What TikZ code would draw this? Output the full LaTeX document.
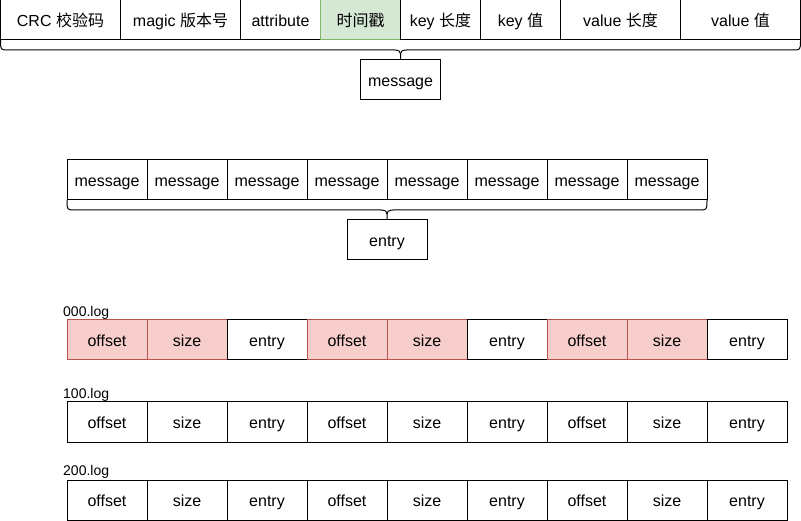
\documentclass[tikz,border=0pt]{standalone}
\usepackage{fontspec}
\setmainfont{Liberation Sans}
\newfontfamily\cjk{Noto Sans CJK SC}
\usetikzlibrary{calc}
\definecolor{gfill}{HTML}{D5E8D4}
\definecolor{gline}{HTML}{82B366}
\definecolor{rfill}{HTML}{F8CECC}
\definecolor{rline}{HTML}{B85450}
\tikzset{
  cell/.style={draw=black, line width=1pt, minimum height=40pt, inner sep=0pt, outer sep=0pt, anchor=west, text height=15pt, text depth=2pt, font=\fontsize{16}{18}\selectfont},
  pinkcell/.style={cell, draw=rline, fill=rfill},
  greencell/.style={cell, draw=gline, fill=gfill},
  lbl/.style={anchor=west, inner sep=0pt, font=\fontsize{14}{16}\selectfont},
  bracepath/.style={draw=black, line width=1pt}
}
\newcommand{\mybrace}[4]{% left x, right x, top y, center x
  \draw[bracepath] (#1,#3) .. controls (#1,#3+10) and (#1,#3+10) .. (#1+8,#3+10) -- (#4-6,#3+10) .. controls (#4-1,#3+10) and (#4,#3+12) .. (#4,#3+14) -- (#4,#3+20);
  \draw[bracepath] (#2,#3) .. controls (#2,#3+10) and (#2,#3+10) .. (#2-8,#3+10) -- (#4+6,#3+10) .. controls (#4+1,#3+10) and (#4,#3+12) .. (#4,#3+14);
}
\begin{document}
\begin{tikzpicture}[x=1pt,y=-1pt]
\useasboundingbox (0,0) rectangle (801,521);
% top row
\node[cell, minimum width=120pt] (t1) at (0.5,20) {CRC {\cjk 校验码}};
\node[cell, minimum width=120pt] (t2) at (t1.east) {magic {\cjk 版本号}};
\node[cell, minimum width=80pt] (t3) at (t2.east) {attribute};
\node[greencell, minimum width=80pt] (t4) at (t3.east) {{\cjk 时间戳}};
\node[cell, minimum width=80pt] (t5) at (t4.east) {key {\cjk 长度}};
\node[cell, minimum width=80pt] (t6) at (t5.east) {key {\cjk 值}};
\node[cell, minimum width=120pt] (t7) at (t6.east) {value {\cjk 长度}};
\node[cell, minimum width=120pt] (t8) at (t7.east) {value {\cjk 值}};
\mybrace{0.5}{800.5}{40}{400.5}
\node[cell, minimum width=80pt, anchor=north] (msg) at (400.5,60) {message};
% middle row
\node[cell, minimum width=80pt] (m1) at (67,180) {message};
\foreach \i [remember=\i as \j (initially 1)] in {2,...,8} {
  \node[cell, minimum width=80pt] (m\i) at (m\j.east) {message};
}
\mybrace{67}{707}{200}{387}
\node[cell, minimum width=80pt, anchor=north] (entry) at (387,220) {entry};
% log rows
\node[lbl] (l0) at (63,313) {000.log};
\node[pinkcell, minimum width=80pt] (a1) at (67,340) {offset};
\node[pinkcell, minimum width=80pt] (a2) at (a1.east) {size};
\node[cell, minimum width=80pt] (a3) at (a2.east) {entry};
\node[pinkcell, minimum width=80pt] (a4) at (a3.east) {offset};
\node[pinkcell, minimum width=80pt] (a5) at (a4.east) {size};
\node[cell, minimum width=80pt] (a6) at (a5.east) {entry};
\node[pinkcell, minimum width=80pt] (a7) at (a6.east) {offset};
\node[pinkcell, minimum width=80pt] (a8) at (a7.east) {size};
\node[cell, minimum width=80pt] (a9) at (a8.east) {entry};
\node[lbl] (l1) at (63,395) {100.log};
\node[cell, minimum width=80pt] (b1) at (67,422) {offset};
\node[cell, minimum width=80pt] (b2) at (b1.east) {size};
\node[cell, minimum width=80pt] (b3) at (b2.east) {entry};
\node[cell, minimum width=80pt] (b4) at (b3.east) {offset};
\node[cell, minimum width=80pt] (b5) at (b4.east) {size};
\node[cell, minimum width=80pt] (b6) at (b5.east) {entry};
\node[cell, minimum width=80pt] (b7) at (b6.east) {offset};
\node[cell, minimum width=80pt] (b8) at (b7.east) {size};
\node[cell, minimum width=80pt] (b9) at (b8.east) {entry};
\node[lbl] (l2) at (63,472) {200.log};
\node[cell, minimum width=80pt] (c1) at (67,500) {offset};
\node[cell, minimum width=80pt] (c2) at (c1.east) {size};
\node[cell, minimum width=80pt] (c3) at (c2.east) {entry};
\node[cell, minimum width=80pt] (c4) at (c3.east) {offset};
\node[cell, minimum width=80pt] (c5) at (c4.east) {size};
\node[cell, minimum width=80pt] (c6) at (c5.east) {entry};
\node[cell, minimum width=80pt] (c7) at (c6.east) {offset};
\node[cell, minimum width=80pt] (c8) at (c7.east) {size};
\node[cell, minimum width=80pt] (c9) at (c8.east) {entry};
\end{tikzpicture}
\end{document}
